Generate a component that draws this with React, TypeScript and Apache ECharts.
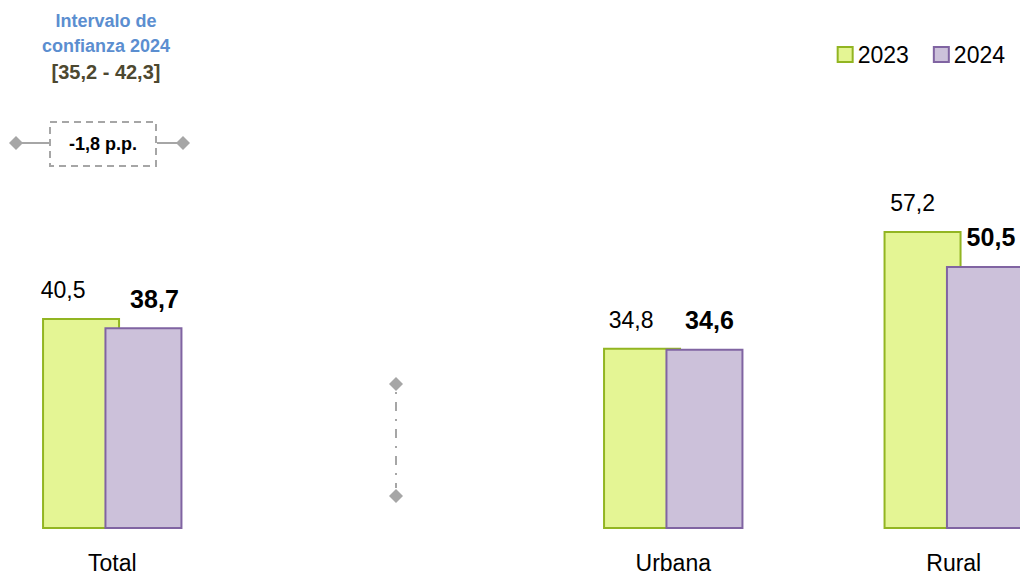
import React, { useEffect, useRef } from "react";
import * as echarts from "echarts";

const categories = ["Total", "", "Urbana", "Rural"];
const series2023 = [40.5, null, 34.8, 57.2];
const series2024 = [38.7, null, 34.6, 50.5];
const legendNames = ["2023", "2024"];
const intervalTitle = ["Intervalo de", "confianza 2024"];
const intervalRange = "[35,2 - 42,3]";
const diffLabel = "-1,8 p.p.";

const labelShift2023 = [-18, 0, -11, -10];
const labelShift2024 = [11, 0, 5, 6];

const FONT = '"Liberation Sans Narrow", "Arial Narrow", "Liberation Sans", Arial, sans-serif';
const fmt = (v: number) => String(v.toFixed(1)).replace(".", ",");

export default function App() {
  const ref = useRef<HTMLDivElement>(null);
  useEffect(() => {
    if (!ref.current) return;
    const chart = echarts.init(ref.current, null, { renderer: "svg" });
    const mk = (arr: (number | null)[], shifts: number[]) =>
      arr.map((v, i) =>
        v == null ? "-" : { value: v, label: { offset: [shifts[i], 0] } }
      );
    const diamond = (cx: number, cy: number) => ({
      type: "polygon",
      shape: { points: [[cx, cy - 7], [cx + 7, cy], [cx, cy + 7], [cx - 7, cy]] },
      style: { fill: "#A6A6A6" },
    });
    chart.setOption({
      animation: false,
      legend: {
        right: 10,
        top: 38,
        itemWidth: 15,
        itemHeight: 15,
        itemGap: 24,
        icon: "rect",
        textStyle: { fontSize: 23, color: "#000", fontFamily: FONT },
        data: legendNames,
      },
      grid: {
        left: -28,
        right: -74,
        top: 8,
        bottom: 47,
        outerBoundsMode: "none",
        containLabel: false,
      },
      xAxis: {
        type: "category",
        data: categories,
        axisLine: { show: false },
        axisTick: { show: false },
        axisLabel: {
          fontSize: 23,
          color: "#000",
          fontFamily: FONT,
          margin: 22,
          interval: 0,
        },
      },
      yAxis: {
        type: "value",
        min: 0,
        max: 100,
        show: false,
        splitLine: { show: false },
      },
      series: [
        {
          name: legendNames[0],
          type: "bar",
          barWidth: 78,
          barGap: "-20%",
          data: mk(series2023, labelShift2023),
          itemStyle: { color: "#E4F594", borderColor: "#92B522", borderWidth: 2 },
          label: {
            show: true,
            position: "top",
            distance: 16,
            fontSize: 23,
            color: "#000",
            fontFamily: FONT,
            formatter: (p: any) => fmt(p.value),
          },
        },
        {
          name: legendNames[1],
          type: "bar",
          barWidth: 78,
          barGap: "-20%",
          data: mk(series2024, labelShift2024),
          itemStyle: { color: "#CCC1DA", borderColor: "#8064A2", borderWidth: 2 },
          label: {
            show: true,
            position: "top",
            distance: 16,
            fontSize: 25,
            fontWeight: "bold",
            color: "#000",
            fontFamily: FONT,
            formatter: (p: any) => fmt(p.value),
          },
        },
      ],
      graphic: [
        {
          type: "text",
          style: {
            text: intervalTitle[0],
            x: 106,
            y: 21,
            textAlign: "center",
            textVerticalAlign: "middle",
            fontSize: 18,
            fontWeight: "bold",
            fontFamily: FONT,
            fill: "#5B8ED0",
          },
        },
        {
          type: "text",
          style: {
            text: intervalTitle[1],
            x: 106,
            y: 46,
            textAlign: "center",
            textVerticalAlign: "middle",
            fontSize: 18,
            fontWeight: "bold",
            fontFamily: FONT,
            fill: "#5B8ED0",
          },
        },
        {
          type: "text",
          style: {
            text: intervalRange,
            x: 106,
            y: 72,
            textAlign: "center",
            textVerticalAlign: "middle",
            fontSize: 20,
            fontWeight: "bold",
            fontFamily: FONT,
            fill: "#4D4830",
          },
        },
        {
          type: "rect",
          shape: { x: 50, y: 122, width: 106, height: 44 },
          style: { fill: "none", stroke: "#A6A6A6", lineWidth: 2, lineDash: [7, 5] },
        },
        {
          type: "text",
          style: {
            text: diffLabel,
            x: 103,
            y: 144,
            textAlign: "center",
            textVerticalAlign: "middle",
            fontSize: 18,
            fontWeight: "bold",
            fontFamily: FONT,
            fill: "#000",
          },
        },
        {
          type: "line",
          shape: { x1: 16, y1: 143, x2: 49, y2: 143 },
          style: { stroke: "#A6A6A6", lineWidth: 2 },
        },
        {
          type: "line",
          shape: { x1: 157, y1: 143, x2: 183, y2: 143 },
          style: { stroke: "#A6A6A6", lineWidth: 2 },
        },
        diamond(16, 143),
        diamond(183, 143),
        {
          type: "line",
          shape: { x1: 396, y1: 392, x2: 396, y2: 488 },
          style: { stroke: "#A6A6A6", lineWidth: 2, lineDash: [2, 8, 9, 8] },
        },
        diamond(396, 384),
        diamond(396, 496),
      ],
    });
    return () => chart.dispose();
  }, []);
  return <div ref={ref} style={{ width: 1020, height: 576, position: "absolute", left: 0, top: 0 }} />;
}
